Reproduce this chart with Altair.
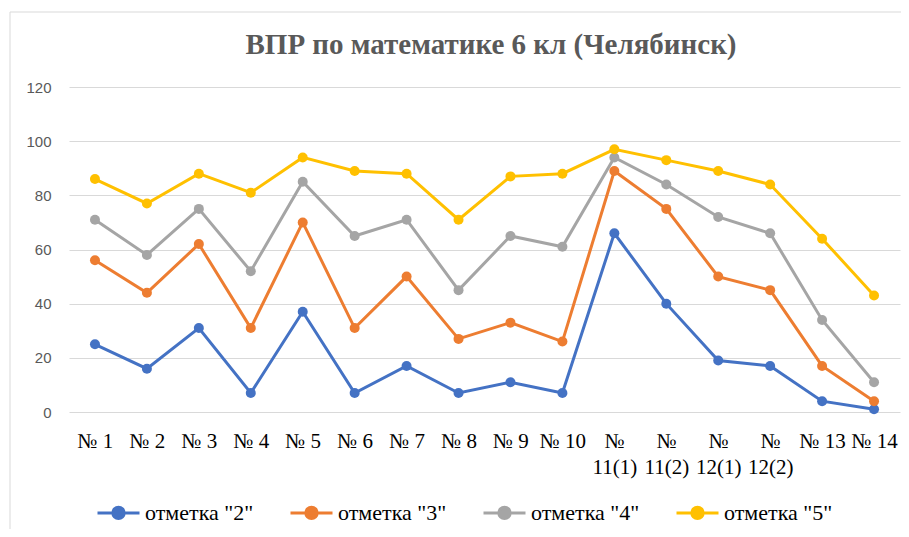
import altair as alt
import pandas as pd

categories = ["№ 1", "№ 2", "№ 3", "№ 4", "№ 5", "№ 6", "№ 7", "№ 8", "№ 9", "№ 10",
              "№ 11(1)", "№ 11(2)", "№ 12(1)", "№ 12(2)", "№ 13", "№ 14"]
series_names = ['отметка "2"', 'отметка "3"', 'отметка "4"', 'отметка "5"']
mark2 = [25, 16, 31, 7, 37, 7, 17, 7, 11, 7, 66, 40, 19, 17, 4, 1]
mark3 = [56, 44, 62, 31, 70, 31, 50, 27, 33, 26, 89, 75, 50, 45, 17, 4]
mark4 = [71, 58, 75, 52, 85, 65, 71, 45, 65, 61, 94, 84, 72, 66, 34, 11]
mark5 = [86, 77, 88, 81, 94, 89, 88, 71, 87, 88, 97, 93, 89, 84, 64, 43]
colors = ["#4472C4", "#ED7D31", "#A5A5A5", "#FFC000"]
title_text = "ВПР по математике 6 кл (Челябинск)"

rows = []
for name, vals in zip(series_names, [mark2, mark3, mark4, mark5]):
    for c, v in zip(categories, vals):
        rows.append({"cat": c, "series": name, "value": v})
df = pd.DataFrame(rows)

sym = ("M-1,0L1,0M-0.27,0A0.27,0.27 0 1,0 0.27,0A0.27,0.27 0 1,0 -0.27,0Z")

x = alt.X("cat:N", sort=categories, title=None,
          scale=alt.Scale(type="point", padding=0.5),
          axis=alt.Axis(labelAngle=0, domain=False, ticks=False, labelPadding=18,
                        labelFont="Liberation Serif", labelFontSize=21, labelColor="#000000",
                        labelLineHeight=26, labelBaseline="top", labelOverlap=False,
                        labelExpr="length(datum.label) > 5 ? split(datum.label, ' ') : datum.label"))
y = alt.Y("value:Q", title=None, scale=alt.Scale(domain=[0, 120]),
          axis=alt.Axis(values=[0, 20, 40, 60, 80, 100, 120], domain=False, ticks=False,
                        labelPadding=18, labelFont="Liberation Sans", labelFontSize=15,
                        labelColor="#595959", gridColor="#d9d9d9", gridWidth=1))
color = alt.Color("series:N", sort=series_names,
                  scale=alt.Scale(domain=series_names, range=colors),
                  legend=alt.Legend(title=None, orient="none", direction="horizontal",
                                    legendX=27, legendY=403, symbolType=sym, symbolSize=1764,
                                    symbolStrokeWidth=3, labelFont="Liberation Serif",
                                    labelFontSize=22, labelColor="#000000", labelOffset=4,
                                    columnPadding=30, labelLimit=300))

base = alt.Chart(df)
lines = base.mark_line(strokeWidth=3).encode(x=x, y=y, color=color)
points = base.mark_point(filled=True, size=100, opacity=1).encode(x=x, y=y, color=color)

border = alt.Chart(pd.DataFrame({"a": [0]})).mark_rect(
    fill=None, stroke="#d9d9d9", strokeWidth=1).encode(
    x=alt.value(-59), x2=alt.value(860), y=alt.value(-75), y2=alt.value(460))

title = alt.Chart(pd.DataFrame({"t": [title_text]})).mark_text(
    font="Liberation Serif", fontSize=29, fontWeight="bold", color="#595959",
    align="center", baseline="alphabetic").encode(
    text="t:N", x=alt.value(422), y=alt.value(-33))

chart = alt.layer(border, title, lines, points).properties(
    width=831, height=325,
    autosize=alt.AutoSizeParams(type="none"),
    padding={"left": 61, "top": 79, "right": 1, "bottom": 117},
).configure_view(stroke=None).configure_legend(labelFont="Liberation Serif")

chart.save("out.html", embed_options={"renderer": "svg", "actions": False})
